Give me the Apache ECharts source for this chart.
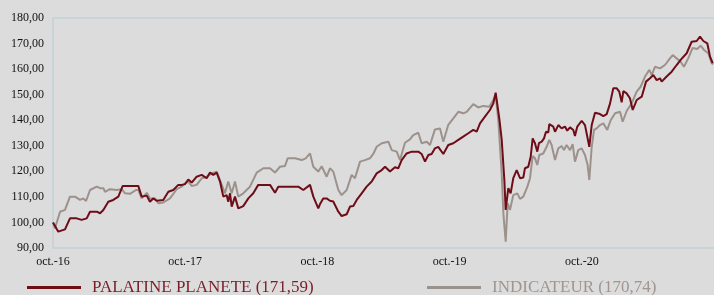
<!DOCTYPE html>
<html>
<head>
<meta charset="utf-8">
<script src="https://cdn.jsdelivr.net/npm/echarts@6/dist/echarts.min.js"></script>
<style>
  html, body { margin: 0; padding: 0; background: #dcdcdc; }
  #chart { width: 714px; height: 295px; }
</style>
</head>
<body>
<div id="chart"></div>
<script>
// months since oct. 2016
const palatineMonths = [0, 0.48, 1.09, 1.54, 2.15, 2.6, 3.06, 3.36, 3.97, 4.27, 4.57, 5.02, 5.47, 5.93, 6.33, 7.74, 8.05, 8.51, 8.8, 9.1, 9.41, 10.01, 10.47, 10.92, 11.37, 11.68, 11.98, 12.28, 12.59, 13.04, 13.5, 13.95, 14.25, 14.55, 14.86, 15.16, 15.46, 15.76, 15.91, 16.07, 16.22, 16.52, 16.67, 16.82, 17.27, 17.73, 18.18, 18.63, 19.7, 20.15, 20.45, 22.27, 22.72, 23.33, 23.63, 24.08, 24.24, 24.53, 24.84, 25.14, 25.44, 25.9, 26.2, 26.66, 26.96, 27.26, 27.57, 28.02, 28.47, 28.93, 29.07, 29.38, 29.84, 30.14, 30.59, 31.04, 31.34, 31.65, 32.1, 32.56, 33.16, 33.46, 33.77, 34.07, 34.37, 34.67, 34.97, 35.43, 35.88, 36.34, 36.79, 37.24, 37.7, 38.15, 38.46, 38.76, 39.21, 39.66, 39.97, 40.18, 40.51, 40.73, 40.97, 41.09, 41.33, 41.54, 41.78, 42.09, 42.39, 42.69, 42.84, 43.14, 43.36, 43.54, 43.75, 43.96, 44.11, 44.36, 44.57, 44.75, 44.96, 45.05, 45.41, 45.57, 45.87, 46.17, 46.47, 46.68, 46.93, 47.23, 47.38, 47.59, 47.99, 48.29, 48.68, 48.9, 49.2, 49.65, 49.95, 50.26, 50.56, 50.86, 51.17, 51.4, 51.62, 51.77, 52.07, 52.37, 52.62, 52.98, 53.44, 53.83, 54.19, 54.49, 54.8, 55.1, 55.25, 55.7, 56.16, 56.61, 56.97, 57.52, 57.97, 58.43, 58.73, 59.03, 59.39, 59.64, 59.88];
const palatineValues = [100, 96.4, 97.3, 101.6, 101.6, 101, 101.6, 104.2, 104.2, 103.6, 104.9, 108.1, 108.8, 110.1, 114.3, 114.3, 110.1, 110.5, 108.1, 109.4, 108.5, 108.8, 112, 112.7, 114.7, 114.7, 115, 116.8, 115.6, 117.9, 118.6, 117.3, 119.5, 118.6, 119.5, 116, 110.1, 110.7, 108.1, 111.4, 106.2, 110.1, 110.1, 105.5, 106.4, 109.4, 111.4, 114.7, 114.7, 111.6, 114, 114, 112.7, 114.7, 110.1, 105.5, 107.2, 109.4, 109.4, 108.5, 108.2, 104.2, 102.5, 103.2, 106.2, 106.4, 108.8, 111.4, 114, 116, 115.6, 119.2, 120.5, 121.8, 119.9, 121.6, 121.2, 124.4, 127, 127.7, 127.7, 126.8, 123.8, 126.4, 126.8, 129, 129.6, 126.8, 130.3, 131, 132.3, 133.6, 134.9, 136.2, 135.5, 138.8, 141.4, 144, 146.6, 150.8, 140.7, 132.3, 116.6, 104.9, 113.4, 111.4, 117.3, 120.5, 117.3, 117.6, 121.2, 121.8, 125.7, 132.9, 131, 127.7, 131, 131.6, 132.9, 135.5, 135.2, 138.5, 137.5, 135.5, 138.1, 136.8, 137.5, 135.9, 137.2, 136.2, 133.8, 137.5, 139.8, 138.1, 129.6, 138.1, 142.9, 142.4, 141.6, 142.4, 146.5, 152.5, 152.5, 151.2, 147, 151.4, 150.5, 148.6, 144, 147.9, 149.2, 155.1, 156.4, 157.7, 155.7, 156.4, 155.1, 157.1, 159, 161.6, 163.6, 166.2, 170.7, 171, 172.7, 171, 170.1, 164.9, 162.3];

const indicateurMonths = [0, 0.18, 0.64, 1.09, 1.54, 2.0, 2.45, 2.75, 3.0, 3.36, 3.97, 4.27, 4.57, 4.72, 5.17, 5.78, 6.24, 6.54, 6.99, 7.53, 7.74, 8.05, 8.51, 8.8, 9.26, 9.56, 10.01, 10.62, 11.23, 11.68, 11.98, 12.28, 12.59, 13.04, 13.5, 13.95, 14.4, 14.86, 15.16, 15.61, 15.91, 16.22, 16.52, 16.82, 17.27, 17.88, 18.49, 19.09, 19.7, 20.15, 20.6, 21.06, 21.3, 21.97, 22.57, 22.94, 23.33, 23.63, 24.08, 24.39, 24.84, 25.14, 25.44, 25.9, 26.2, 26.66, 27.11, 27.41, 27.87, 28.32, 28.77, 29.07, 29.38, 29.84, 30.44, 30.75, 31.2, 31.5, 31.95, 32.4, 32.7, 33.16, 33.46, 33.92, 34.22, 34.67, 35.13, 35.43, 35.88, 36.34, 36.79, 37.24, 37.55, 38.15, 38.6, 39.06, 39.6, 39.97, 40.18, 40.42, 40.73, 40.88, 41.09, 41.27, 41.48, 41.78, 42.15, 42.39, 42.69, 43.06, 43.3, 43.54, 43.75, 43.96, 44.14, 44.5, 44.81, 45.05, 45.26, 45.57, 45.87, 46.17, 46.38, 46.62, 46.93, 47.17, 47.38, 47.68, 47.99, 48.29, 48.53, 48.68, 48.9, 49.11, 49.35, 49.65, 49.95, 50.31, 50.62, 51.02, 51.47, 51.71, 52.07, 52.53, 52.98, 53.34, 53.74, 54.13, 54.35, 54.64, 55.1, 55.55, 56.0, 56.25, 56.61, 56.97, 57.27, 57.66, 58.06, 58.48, 58.79, 59.09, 59.48, 59.79, 59.94];
const indicateurValues = [100, 97.7, 104.2, 104.9, 110.1, 110.1, 108.8, 109.4, 108.4, 112.7, 114, 113.4, 113.4, 112, 113, 112.7, 113, 111.4, 111.2, 112.7, 112.7, 109.4, 111.6, 109.4, 109.4, 107.5, 107.8, 109.4, 113, 114, 115.2, 116, 114.3, 114.7, 117.3, 117.9, 119.2, 119.9, 116.6, 111.4, 116, 111.4, 116, 110.1, 111.4, 114, 119.5, 121.2, 121.2, 119.5, 121.8, 122.1, 125.1, 125.1, 124.4, 125.1, 127, 121.8, 119.9, 122, 117.9, 121.2, 119.9, 112.7, 110.7, 112.7, 118.6, 117.3, 123.8, 124.4, 125.1, 126.8, 129.6, 131, 131.6, 128.3, 127.7, 124.4, 131.2, 132.5, 134.2, 135.1, 131, 131.6, 130.3, 136.4, 136.8, 131.6, 138.2, 140.7, 143.3, 142.7, 143.3, 146.3, 145, 145.6, 145.3, 147.9, 149.9, 140, 119.2, 103.6, 92.5, 107.5, 104.9, 110.7, 111.4, 109.2, 110.1, 114, 117.3, 126, 125.1, 122.5, 126.4, 127, 129.6, 132.3, 130.3, 124.4, 129, 129.9, 128.3, 130.3, 128.3, 130.6, 123.8, 128.3, 129, 126.4, 122.5, 116.6, 129.6, 136.2, 136.8, 138.1, 138.8, 136.2, 140, 142.7, 143.3, 139.4, 143.6, 146.6, 151.2, 153.1, 157.1, 159.7, 157.7, 160.9, 160.3, 161.6, 164.2, 165.5, 164.2, 162.9, 160.9, 164.2, 168.3, 167.9, 169.2, 167.5, 166.2, 162.3, 162];

const palatineName = 'PALATINE PLANETE (171,59)';
const indicateurName = 'INDICATEUR (170,74)';
const yearLabels = ['oct.-16', 'oct.-17', 'oct.-18', 'oct.-19', 'oct.-20'];

const red = '#6e0c18';
const grey = '#9d918c';
const frame = '#c8d4d7';
const serif = '"Liberation Serif", "DejaVu Serif", serif';

const chart = echarts.init(document.getElementById('chart'));

chart.setOption({
  backgroundColor: '#dcdcdc',
  animation: false,
  grid: { left: 53, right: 0, top: 18, bottom: 47 },
  legend: [
    {
      data: [palatineName],
      left: 22, top: 274,
      icon: 'rect', itemWidth: 54, itemHeight: 3, itemGap: 0,
      textStyle: { color: '#7a1d27', fontFamily: serif, fontSize: 17, padding: [0, 0, 0, 6] }
    },
    {
      data: [indicateurName],
      left: 422, top: 274,
      icon: 'rect', itemWidth: 54, itemHeight: 3, itemGap: 0,
      textStyle: { color: '#a0958f', fontFamily: serif, fontSize: 17, padding: [0, 0, 0, 6] }
    }
  ],
  xAxis: [
    {
      type: 'value', min: 0, max: 60, interval: 12,
      axisLine: { lineStyle: { color: frame, width: 2 } },
      axisTick: { show: false },
      splitLine: { show: false },
      axisLabel: {
        margin: 8, color: '#111', fontFamily: serif, fontSize: 12,
        showMaxLabel: false,
        formatter: v => yearLabels[v / 12] || ''
      }
    },
    {
      type: 'value', min: 0, max: 60, position: 'top',
      axisLine: { show: true, lineStyle: { color: frame, width: 2 } },
      axisTick: { show: false },
      axisLabel: { show: false },
      splitLine: { show: false }
    }
  ],
  yAxis: {
    type: 'value', min: 90, max: 180, interval: 10,
    axisLine: { show: true, lineStyle: { color: frame, width: 2 } },
    axisTick: { show: false },
    splitLine: { show: false },
    axisLabel: {
      margin: 9, color: '#111', fontFamily: serif, fontSize: 12,
      formatter: v => v.toFixed(2).replace('.', ',')
    }
  },
  series: [
    {
      name: indicateurName, type: 'line', xAxisIndex: 0,
      showSymbol: false, itemStyle: { color: grey },
      lineStyle: { color: grey, width: 2 },
      data: indicateurMonths.map((m, i) => [m, indicateurValues[i]])
    },
    {
      name: palatineName, type: 'line', xAxisIndex: 0,
      showSymbol: false, itemStyle: { color: red },
      lineStyle: { color: red, width: 2 },
      data: palatineMonths.map((m, i) => [m, palatineValues[i]])
    }
  ]
});
</script>
</body>
</html>
